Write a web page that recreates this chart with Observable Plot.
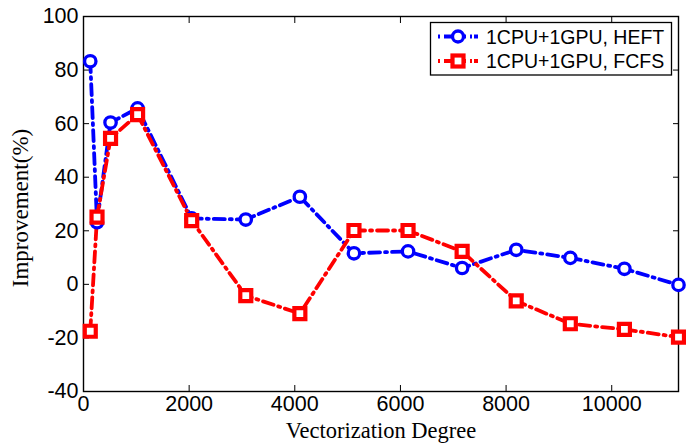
<!DOCTYPE html>
<html><head><meta charset="utf-8">
<script src="https://cdn.jsdelivr.net/npm/d3@7"></script>
<script src="https://cdn.jsdelivr.net/npm/@observablehq/plot@0.6"></script>
<style>
body{margin:0;background:#fff}
#chart svg g[aria-label$="tick label"] text{font-size:21.5px;font-family:"Liberation Sans",Arial,sans-serif}
</style>
</head><body><div id="chart"></div>
<script>
const degrees = [128, 256, 512, 1024, 2048, 3072, 4096, 5120, 6144, 7168, 8192, 9216, 10240, 11264];
const heft = [83.3, 23.2, 60.4, 65.7, 24.6, 24.2, 32.7, 11.6, 12.3, 6.1, 12.9, 9.9, 5.8, -0.2];
const fcfs = [-17.5, 25.1, 54.5, 63.4, 23.8, -4.2, -10.9, 20.1, 20.1, 12.3, -6.2, -14.7, -16.8, -19.7];
const seriesNames = ["1CPU+1GPU, HEFT", "1CPU+1GPU, FCFS"];
const xTicks = [0, 2000, 4000, 6000, 8000, 10000];
const yTicks = [-40, -20, 0, 20, 40, 60, 80, 100];

const heftData = degrees.map((d, i) => ({x: d, y: heft[i]}));
const fcfsData = degrees.map((d, i) => ({x: d, y: fcfs[i]}));
const dash = "11,5,2,5";
const blue = "#0000ff", red = "#ff0000";
const tickFont = "Liberation Sans, Arial, sans-serif";
const serif = "Liberation Serif, Times New Roman, serif";
const fmt = d => String(d);

const plot = Plot.plot({
  width: 686, height: 448,
  marginLeft: 83, marginRight: 8, marginTop: 16, marginBottom: 57,
  style: {fontFamily: tickFont, fontSize: "21px", color: "#000", background: "#fff"},
  x: {domain: [0, 11264], ticks: xTicks},
  y: {domain: [-40, 100], ticks: yTicks},
  marks: [
    Plot.frame({stroke: "#000", strokeWidth: 1.4}),
    Plot.axisX({anchor: "bottom", ticks: xTicks, tickSize: -6, tickPadding: 10.5, tickFormat: fmt, label: null}),
    Plot.axisX({anchor: "top", ticks: xTicks, tickSize: -6, tickFormat: () => "", label: null}),
    Plot.axisY({anchor: "left", ticks: yTicks, tickSize: -6, tickPadding: 11, tickFormat: fmt, label: null}),
    Plot.axisY({anchor: "right", ticks: yTicks, tickSize: -6, tickFormat: () => "", label: null}),
    Plot.line(heftData, {x: "x", y: "y", stroke: blue, strokeWidth: 3.8, strokeDasharray: dash}),
    Plot.line(fcfsData, {x: "x", y: "y", stroke: red, strokeWidth: 3.8, strokeDasharray: dash}),
    Plot.dot(heftData, {x: "x", y: "y", r: 5.7, stroke: blue, strokeWidth: 3.3, fill: "white"}),
    Plot.dot(fcfsData, {x: "x", y: "y", symbol: "square", r: 6.2, stroke: red, strokeWidth: 4.2, fill: "white"})
  ]
});
document.getElementById("chart").appendChild(plot);

const svg = d3.select(plot);
svg.append("text").attr("x", 381).attr("y", 438).attr("text-anchor", "middle")
  .attr("font-family", serif).attr("font-size", 22.5)
  .attr("fill", "#000").text("Vectorization Degree");
svg.append("text").attr("transform", "translate(28,208) rotate(-90)").attr("text-anchor", "middle")
  .attr("font-family", serif).attr("font-size", 23)
  .attr("fill", "#000").text("Improvement(%)");

// legend
const lg = svg.append("g");
lg.append("rect").attr("x", 430.5).attr("y", 22.5).attr("width", 241).attr("height", 52.5)
  .attr("fill", "white").attr("stroke", "#000").attr("stroke-width", 1.3);
const rows = [
  {name: seriesNames[0], color: blue, shape: "circle", cy: 36.5},
  {name: seriesNames[1], color: red, shape: "square", cy: 61}
];
rows.forEach(r => {
  lg.append("line").attr("x1", 438).attr("x2", 478).attr("y1", r.cy).attr("y2", r.cy)
    .attr("stroke", r.color).attr("stroke-width", 3.8).attr("stroke-dasharray", "2,4,22,4,2");
  if (r.shape === "circle") {
    lg.append("circle").attr("cx", 458).attr("cy", r.cy).attr("r", 5.5)
      .attr("fill", "white").attr("stroke", r.color).attr("stroke-width", 3.3);
  } else {
    lg.append("rect").attr("x", 458 - 5.5).attr("y", r.cy - 5.5).attr("width", 11).attr("height", 11)
      .attr("fill", "white").attr("stroke", r.color).attr("stroke-width", 4.2);
  }
  lg.append("text").attr("x", 486).attr("y", r.cy + 7).attr("text-anchor", "start")
    .attr("font-family", tickFont).attr("font-size", 19.5).attr("fill", "#000").text(r.name);
});
</script></body></html>
